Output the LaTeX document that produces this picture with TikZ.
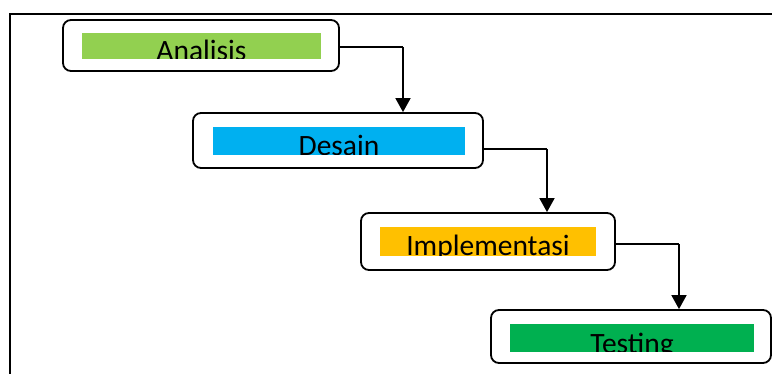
\documentclass[tikz,border=0pt]{standalone}
\usepackage{fontspec}
\setmainfont{Carlito}
\usetikzlibrary{arrows.meta}
\definecolor{cA}{HTML}{92D050}
\definecolor{cB}{HTML}{00B0F0}
\definecolor{cC}{HTML}{FFC000}
\definecolor{cD}{HTML}{00B050}
\tikzset{
  stagebox/.style={draw=black, line width=1.8pt, rounded corners=8pt, fill=white},
  lbl/.style={inner sep=0pt, anchor=base, font=\fontsize{29.5}{31}\selectfont},
  arr/.style={line width=1.8pt, -{Triangle[width=15pt,length=14pt]}},
}
\begin{document}
\begin{tikzpicture}[x=1pt,y=-1pt]
\useasboundingbox (0,0) rectangle (772,374);
\fill[white] (0,0) rectangle (772,374);
\draw[line width=2.2pt, draw=black] (10,400) -- (10,14) -- (800,14);
% boxes
\node[stagebox, minimum width=276pt, minimum height=51pt] (a) at (201,45.5) {};
\node[stagebox, minimum width=290pt, minimum height=55pt] (b) at (338,140.5) {};
\node[stagebox, minimum width=254pt, minimum height=57pt] (c) at (488,241.5) {};
\node[stagebox, minimum width=280pt, minimum height=53pt] (d) at (631,336.5) {};
% bars
\fill[cA] (82,33) rectangle (321,59);
\fill[cB] (213,127) rectangle (465,155);
\fill[cC] (380,227) rectangle (596,256);
\fill[cD] (510,324) rectangle (754,352);
% labels clipped at bar bottoms
\begin{scope}
\clip (82,33) rectangle (321,59);
\node[lbl] (ta) at (201.5,61) {Analisis};
\end{scope}
\begin{scope}
\clip (213,127) rectangle (465,155);
\node[lbl] (tb) at (339,156) {Desain};
\end{scope}
\begin{scope}
\clip (380,227) rectangle (596,256);
\node[lbl] (tc) at (488,255.5) {Implementasi};
\end{scope}
\begin{scope}
\clip (510,324) rectangle (754,352);
\node[lbl] (td) at (632,353.5) {Testing};
\end{scope}
% connectors
\coordinate (k1) at (403,47);
\coordinate (k2) at (547,149);
\coordinate (k3) at (679,244);
\draw[line width=1.5pt] (a.east |- k1) -- (k1);
\draw[arr] (k1) -- (b.north -| k1);
\draw[line width=1.5pt] (b.east |- k2) -- (k2);
\draw[arr] (k2) -- (c.north -| k2);
\draw[line width=1.5pt] (c.east |- k3) -- (k3);
\draw[arr] (k3) -- (d.north -| k3);
\end{tikzpicture}
\end{document}
